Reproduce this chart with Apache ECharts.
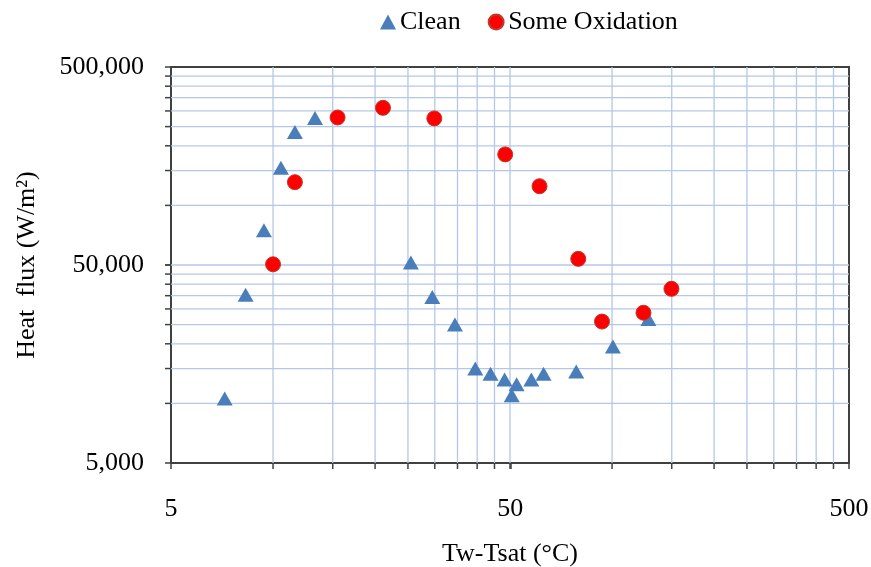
<!DOCTYPE html>
<html>
<head>
<meta charset="utf-8">
<script src="https://cdn.jsdelivr.net/npm/echarts@6/dist/echarts.min.js"></script>
<style>html,body{margin:0;padding:0;background:#fff;}#c{width:871px;height:567px;}</style>
</head>
<body>
<div id="c"></div>
<script>
// ---- data ----
const cleanX = [7.2, 8.3, 9.4, 10.55, 11.6, 13.3, 25.5, 29.5, 34.4, 39.5, 43.8, 48.2, 50.6, 52.3, 57.8, 62.8, 78.4, 100.6, 128];
const cleanY = [10600, 35400, 75000, 155000, 235000, 276000, 51500, 34500, 25000, 15000, 14100, 13200, 11000, 12500, 13200, 14100, 14500, 19400, 26700];
const oxX = [10.0, 11.6, 15.5, 21.1, 29.9, 48.4, 61.1, 79.5, 93.4, 123.8, 149.7];
const oxY = [50400, 131000, 278000, 311000, 275000, 181000, 125000, 53700, 25900, 28700, 37900];

// axis ranges, tick labels and gridline positions
const xMin = 5, xMax = 500;
const yMin = 5000, yMax = 500000;
const xGrid = [10, 15, 20, 25, 30, 35, 40, 45, 50, 100, 150, 200, 250, 300, 350, 400, 450];
const yGrid = [10000, 15000, 20000, 25000, 30000, 35000, 40000, 45000, 50000,
               100000, 150000, 200000, 250000, 300000, 350000, 400000, 450000];
const seriesNames = ['Clean', 'Some Oxidation'];
const xTitle = 'Tw-Tsat (°C)';
const yTitle = 'Heat  flux (W/m²)';

const FONT = 'Liberation Serif';
const FS = 26;
const GRID_COLOR = '#b4c7e7';
const AXIS_COLOR = '#404040';

const chart = echarts.init(document.getElementById('c'));

function gridRender(vertical) {
  return function (params, api) {
    const v = api.value(vertical ? 0 : 1);
    let p1, p2, t1, t2;
    if (vertical) {
      p1 = api.coord([v, yMin]); p2 = api.coord([v, yMax]);
      t1 = p1; t2 = [p1[0], p1[1] + 6];
    } else {
      p1 = api.coord([xMin, v]); p2 = api.coord([xMax, v]);
      t1 = p1; t2 = [p1[0] - 6, p1[1]];
    }
    return {
      type: 'group',
      children: [
        { type: 'line', shape: { x1: p1[0], y1: p1[1], x2: p2[0], y2: p2[1] },
          style: { stroke: GRID_COLOR, lineWidth: 1.3 } },
        { type: 'line', shape: { x1: t1[0], y1: t1[1], x2: t2[0], y2: t2[1] },
          style: { stroke: AXIS_COLOR, lineWidth: 1.5 } }
      ]
    };
  };
}

const fmt = v => Number(Number(v).toPrecision(1)).toLocaleString('en-US');

chart.setOption({
  animation: false,
  backgroundColor: '#fff',
  grid: { left: 171, right: 22, top: 67, bottom: 104, show: true, borderColor: AXIS_COLOR, borderWidth: 2,
          backgroundColor: 'transparent', containLabel: false, outerBoundsMode: 'none' },
  legend: {
    data: [
      { name: seriesNames[0], icon: 'triangle' },
      { name: seriesNames[1], icon: 'circle' }
    ],
    left: 375, top: 4, itemWidth: 16, itemHeight: 15, itemGap: 27,
    textStyle: { fontFamily: FONT, fontSize: FS, color: '#000', padding: [0, 0, 0, -1] }
  },
  xAxis: {
    type: 'log', logBase: 10, min: xMin, max: xMax, interval: 1,
    axisLine: { lineStyle: { color: AXIS_COLOR, width: 2 } },
    axisTick: { show: true, length: 6, lineStyle: { color: AXIS_COLOR, width: 1.5 } },
    splitLine: { show: false },
    axisLabel: { fontFamily: FONT, fontSize: FS, color: '#000', margin: 33, formatter: fmt },
    name: xTitle, nameLocation: 'middle', nameGap: 78,
    nameTextStyle: { fontFamily: FONT, fontSize: FS, color: '#000' }
  },
  yAxis: {
    type: 'log', logBase: 10, min: yMin, max: yMax, interval: 1,
    axisLine: { lineStyle: { color: AXIS_COLOR, width: 2 } },
    axisTick: { show: true, length: 6, lineStyle: { color: AXIS_COLOR, width: 1.5 } },
    splitLine: { show: false },
    axisLabel: { fontFamily: FONT, fontSize: FS, color: '#000', margin: 27, formatter: fmt },
    name: yTitle, nameLocation: 'middle', nameGap: 131, nameRotate: 90,
    nameTextStyle: { fontFamily: FONT, fontSize: FS, color: '#000' }
  },
  series: [
    {
      type: 'custom', name: 'xgrid', silent: true, clip: false, z: 1,
      data: xGrid.map(v => [v, yMin]), renderItem: gridRender(true)
    },
    {
      type: 'custom', name: 'ygrid', silent: true, clip: false, z: 1,
      data: yGrid.map(v => [xMin, v]), renderItem: gridRender(false)
    },
    {
      type: 'scatter', name: seriesNames[0], z: 5,
      symbol: 'triangle', symbolSize: [16, 14],
      itemStyle: { color: '#4a7ebb', opacity: 1 },
      data: cleanX.map((x, i) => [x, cleanY[i]])
    },
    {
      type: 'scatter', name: seriesNames[1], z: 6,
      symbol: 'circle', symbolSize: 15,
      itemStyle: { color: '#ff0000', borderColor: '#c0392b', borderWidth: 1, opacity: 1 },
      data: oxX.map((x, i) => [x, oxY[i]])
    }
  ]
});
</script>
</body>
</html>
